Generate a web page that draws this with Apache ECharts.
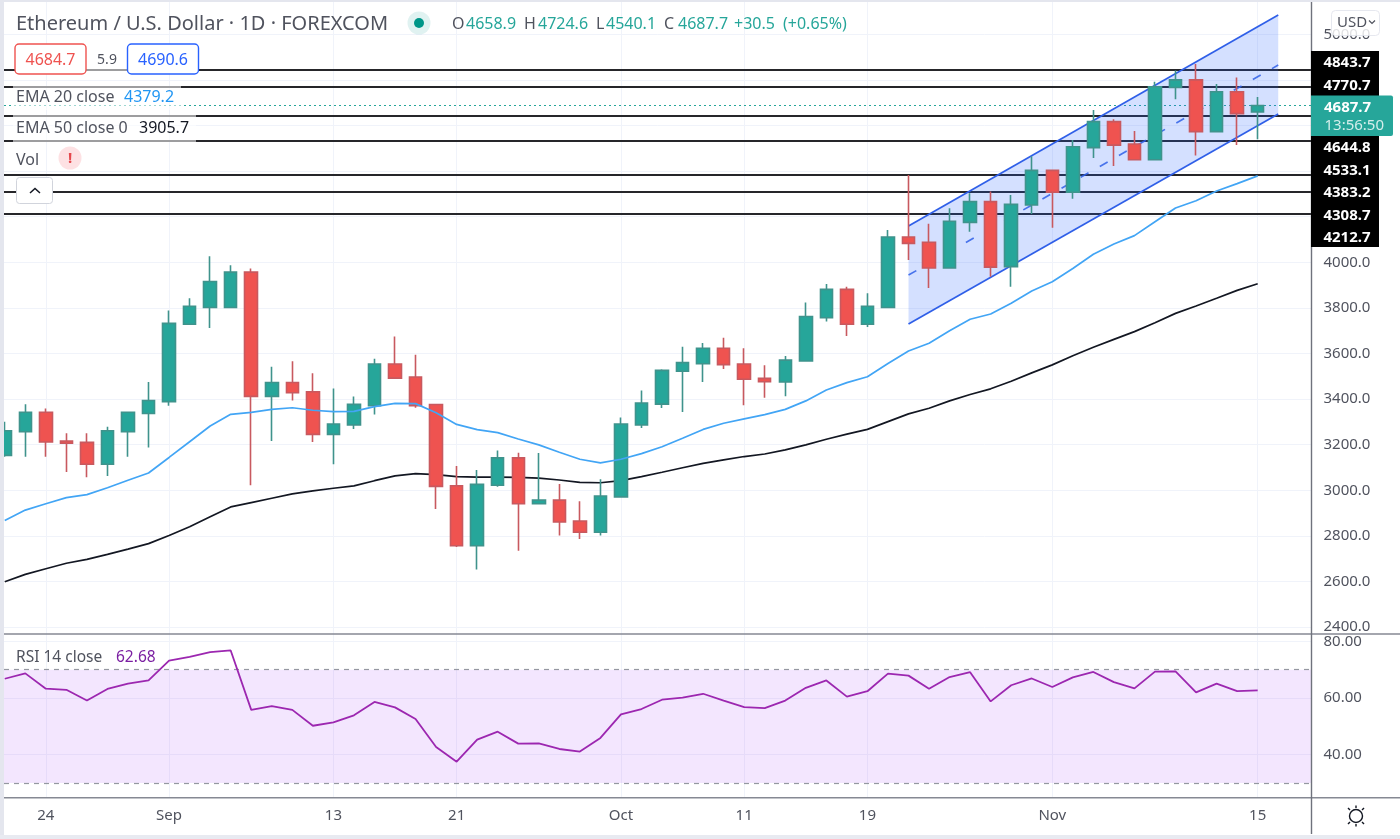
<!DOCTYPE html>
<html>
<head>
<meta charset="utf-8">
<style>html,body{margin:0;padding:0;background:#fff;overflow:hidden}#c{width:1400px;height:839px}</style>
<script src="https://cdn.jsdelivr.net/npm/echarts@6/dist/echarts.min.js"></script>
</head>
<body>
<div id="c"></div>
<script>
const opens = [3153,3257,3342,3216,3210,3114,3257,3337,3389,3728,3802,3802,3957,3412,3473,3432,3245,3286,3371,3554,3497,3376,3020,2757,3022,3142,2941,2957,2865,2816,2971,3286,3378,3522,3555,3623,3554,3491,3475,3567,3757,3881,3728,3802,4111,4088,3975,4175,4266,3981,4251,4403,4307,4503,4617,4519,4450,4767,4800,4573,4748,4658.9];
const closes = [3261,3342,3212,3206,3114,3261,3342,3394,3732,3807,3916,3957,3412,3473,3428,3245,3291,3377,3554,3492,3371,3017,2757,3026,3142,2941,2957,2861,2816,2975,3291,3383,3526,3560,3623,3551,3487,3476,3571,3762,3881,3728,3807,4111,4083,3975,4180,4266,3979,4254,4403,4307,4507,4617,4514,4450,4770,4800,4573,4748,4652,4687.7];
const lows = [3147,3147,3147,3080,3057,3063,3147,3188,3371,3728,3712,3802,3022,3216,3394,3212,3114,3269,3332,3488,3362,2918,2751,2653,3016,2735,2941,2802,2786,2802,2971,3273,3361,3343,3475,3532,3373,3406,3412,3567,3740,3677,3716,3802,4010,3887,3975,4134,3937,3893,4212,4152,4279,4457,4422,4446,4450,4715,4468,4573,4514,4540.1];
const highs = [3301,3377,3359,3250,3250,3279,3346,3475,3789,3842,4026,3987,3973,3542,3566,3513,3446,3411,3577,3675,3595,3376,3107,3089,3175,3165,3164,3028,2952,3048,3319,3438,3531,3630,3646,3669,3623,3548,3589,3824,3905,3893,3864,4142,4383.2,4169,4237,4303,4311,4295,4465,4403,4536,4668,4627,4576,4792,4841,4870,4782,4811,4724.6];
const ema20 = [2867,2913,2941,2968,2981,3011,3044,3076,3144,3213,3282,3333,3342,3355,3362,3351,3345,3346,3367,3381,3380,3340,3289,3266,3253,3225,3199,3167,3136,3120,3136,3161,3191,3228,3267,3294,3313,3332,3355,3392,3440,3472,3498,3556,3611,3645,3700,3750,3773,3820,3874,3915,3973,4035,4080,4117,4178,4238,4270,4313,4345,4379.2];
const ema50 = [2599,2631,2656,2680,2697,2719,2742,2766,2802,2840,2884,2927,2946,2965,2984,2997,3009,3019,3042,3063,3073,3069,3060,3058,3058,3057,3053,3045,3035,3033,3042,3060,3079,3099,3118,3133,3148,3159,3177,3199,3224,3246,3267,3301,3335,3360,3392,3420,3445,3478,3515,3550,3590,3627,3662,3696,3735,3776,3808,3842,3877,3905.7];
const rsi = [66.8,68.7,63.3,62.9,59.1,63.2,65.1,66.2,73.2,74.5,76.2,76.8,55.8,57.1,55.8,50.2,51.4,53.9,58.6,56.7,52.6,42.7,37.5,45.3,48.1,43.9,44.0,42.0,41.1,45.9,54.2,56.1,59.4,60.1,61.5,59.1,56.8,56.4,59.1,63.6,66.2,60.5,62.4,68.6,67.9,63.3,67.4,69.1,58.8,64.5,66.9,63.9,67.3,69.2,65.6,63.4,69.3,69.4,62.0,65.1,62.4,62.68];
const dateTickBars = [2,8,16,22,30,36,42,51,61];
const dateTickLabels = ['24','Sep','13','21','Oct','11','19','Nov','15'];
const priceTicks = [2400,2600,2800,3000,3200,3400,3600,3800,4000,4200,4400,4600,4800,5000];
const priceLabels = [2400,2600,2800,3000,3200,3400,3600,3800,4000,5000];
const rsiTicks = [40,60,80];
const levels = [4843.7,4770.7,4644.8,4533.1,4383.2,4308.7,4212.7];
const lastPrice = 4687.7;
const channelBars = [44,62];
const channelTop = [4159,5085];
const channelMid = [3944,4865];
const channelLow = [3729,4650];

const FONT = '"Noto Sans", sans-serif';
const GREEN = '#26a69a', RED = '#ef5350';
const X = {min:-0.037, max:63.62};
const PRICE = {min:2369.6, max:5141.7};
const RSI = {min:24.8, max:82.6};

const g = [];
function T(text,x,y,fill,size,extra){
  g.push({type:'text',silent:true,z:50,style:{text,x,y,fill,font:(extra&&extra.weight?extra.weight+' ':'')+size+'px '+FONT,textVerticalAlign:'middle',textAlign:(extra&&extra.align)||'left'}});
}
function R(x,y,w,h,fill,opts){
  opts=opts||{};
  g.push({type:'rect',silent:true,z:opts.z||49,shape:{x,y,width:w,height:h,r:opts.r||0},style:{fill,stroke:opts.stroke||null,lineWidth:opts.lw||0,opacity:opts.opacity==null?1:opts.opacity}});
}
function L(x1,y1,x2,y2,stroke,w,z){
  g.push({type:'line',silent:true,z:z||48,shape:{x1,y1,x2,y2},style:{stroke,lineWidth:w}});
}
// page frame
R(0,0,4,839,'#e4e6ee');R(0,0,1400,2,'#e4e6ee');R(0,835,1400,4,'#e8eaf1');
// pane separators and price axis
L(4,634,1400,634,'#868993',1.6);L(4,797.7,1400,797.7,'#868993',1.6);L(1311.5,2,1311.5,834,'#6f727c',1.4);
// legend panels
R(13,86,168,24,'#fff',{opacity:.55});R(13,115,183,27,'#fff',{opacity:.55});
R(86,69,42,2.5,'#fff',{opacity:.55});
const GREY='#50535e';
T('Ethereum / U.S. Dollar · 1D · FOREXCOM',16,24,GREY,20);
g.push({type:'circle',silent:true,z:50,shape:{cx:419,cy:23,r:11.5},style:{fill:'#009688',opacity:.12}});
g.push({type:'circle',silent:true,z:51,shape:{cx:419,cy:23,r:5},style:{fill:'#009688'}});
[['O',452,GREY],['4658.9',466,GREEN],['H',524,GREY],['4724.6',538,GREEN],['L',596,GREY],['4540.1',606,GREEN],['C',664,GREY],['4687.7',678,GREEN],['+30.5',734,GREEN],['(+0.65%)',783,GREEN]].forEach(a=>T(a[0],a[1],24,a[2],16));
R(15,44,71,30,'#fff',{r:4,stroke:'#ef5350',lw:1.4});
T('4684.7',50.5,60,'#ef5350',16,{align:'center'});
T('5.9',107,60,GREY,14,{align:'center'});
R(127.5,44,71,30,'#fff',{r:4,stroke:'#2962ff',lw:1.4});
T('4690.6',163,60,'#2962ff',16,{align:'center'});
T('EMA 20 close',16,97,GREY,16);T('4379.2',124,97,'#2196f3',16);
T('EMA 50 close 0',16,128.5,GREY,16);T('3905.7',139,128.5,'#131722',16);
T('Vol',16,160,GREY,16);
g.push({type:'circle',silent:true,z:50,shape:{cx:70,cy:158,r:11.5},style:{fill:'#f23645',opacity:.15}});
T('!',70,158.5,'#e5484d',15,{align:'center',weight:'bold'});
R(16.5,177.5,36,26,'#fff',{r:3,stroke:'#d1d4dc',lw:1});
g.push({type:'polyline',silent:true,z:51,shape:{points:[[30,193],[35,188.5],[40,193]]},style:{stroke:'#131722',lineWidth:1.5,fill:null}});
T('RSI 14 close',16,657.5,GREY,15.5);T('62.68',116,657.5,'#7b1fa2',15.5);
// price tags
R(1311,51,68,196,'#000');
[['4843.7',62.5],['4770.7',85.5],['4644.8',148],['4533.1',171],['4383.2',193],['4308.7',215.5],['4212.7',237.5]].forEach(a=>T(a[0],1347,a[1],'#fff',15,{align:'center',weight:'bold'}));
R(1311,95.5,82,40.5,GREEN,{r:[0,2,2,0],z:49});
T('4687.7',1324,107.5,'#fff',15,{weight:'bold'});
T('13:56:50',1324.5,126,'#d4eeeb',15);
// currency button
R(1331.5,10.5,48,25,'#fff',{r:4,stroke:'#e0e3eb',lw:1,opacity:.82});
T('USD',1337,22.5,GREY,15);
g.push({type:'polyline',silent:true,z:51,shape:{points:[[1369,20.5],[1372,23.5],[1375,20.5]]},style:{stroke:GREY,lineWidth:1.2,fill:null}});
// theme icon
g.push({type:'circle',silent:true,z:51,shape:{cx:1356,cy:816,r:6.5},style:{fill:'#fff',stroke:'#131722',lineWidth:1.4}});
[[0,-8,0,-10.5],[0,8,0,10.5],[-6,-6,-8,-8],[6,-6,8,-8],[-6,6,-8,8],[6,6,8,8]].forEach(a=>L(1356+a[0],816+a[1],1356+a[2],816+a[3],'#131722',1.4,51));

const candleData = opens.map((o,i)=>[i,o,closes[i],lows[i],highs[i]]);
const xy = a => a.map((v,i)=>[i,v]);
const pair = a => a.map((v,i)=>[channelBars[i],v]);
const gridLine = {show:true,lineStyle:{color:'#f0f3fa',width:1}};

const option = {
  animation:false,
  backgroundColor:'#fff',
  grid:[
    {left:4,right:88.5,top:2,height:632,containLabel:false},
    {left:4,right:88.5,top:634,height:163.7,containLabel:false}
  ],
  xAxis:[
    {gridIndex:0,type:'value',min:X.min,max:X.max,axisLine:{show:false},axisTick:{show:false,customValues:dateTickBars},axisLabel:{show:false},splitLine:gridLine},
    {gridIndex:1,type:'value',min:X.min,max:X.max,axisLine:{show:false},axisTick:{show:false,customValues:dateTickBars},splitLine:gridLine,
     axisLabel:{show:true,customValues:dateTickBars,color:GREY,fontFamily:FONT,fontSize:15,margin:11,showMinLabel:true,showMaxLabel:true,
       formatter:v=>dateTickLabels[dateTickBars.indexOf(v)]}}
  ],
  yAxis:[
    {gridIndex:0,type:'value',position:'right',min:PRICE.min,max:PRICE.max,axisLine:{show:false},axisTick:{show:false,customValues:priceTicks},splitLine:gridLine,
     axisLabel:{customValues:priceLabels,color:GREY,fontFamily:FONT,fontSize:15,margin:12,padding:[3,0,0,0],formatter:v=>v.toFixed(1)}},
    {gridIndex:1,type:'value',position:'right',min:RSI.min,max:RSI.max,axisLine:{show:false},axisTick:{show:false,customValues:rsiTicks},splitLine:gridLine,
     axisLabel:{customValues:rsiTicks,color:GREY,fontFamily:FONT,fontSize:15,margin:12,padding:[2,0,0,0],formatter:v=>v.toFixed(2)}}
  ],
  series:[
    {type:'line',name:'Levels',xAxisIndex:0,yAxisIndex:0,data:[],z:1,silent:true,
     markLine:{silent:true,symbol:'none',z:1,animation:false,label:{show:false},emphasis:{disabled:true},
       data:levels.map(v=>({yAxis:v,lineStyle:{color:'#26262a',width:1.8,type:'solid'}})).concat([{yAxis:lastPrice,lineStyle:{color:GREEN,width:1.2,type:[2,3]}}])}},
    {type:'custom',name:'Channel',xAxisIndex:0,yAxisIndex:0,z:2,silent:true,clip:true,
     data:[[channelBars[0],channelTop[0],channelLow[0],channelBars[1],channelTop[1],channelLow[1]]],
     encode:{x:[0,3],y:[1,2,4,5]},
     renderItem:(p,api)=>{
       const a=api.coord([api.value(0),api.value(1)]),b=api.coord([api.value(3),api.value(4)]),c=api.coord([api.value(3),api.value(5)]),d=api.coord([api.value(0),api.value(2)]);
       return {type:'polygon',shape:{points:[a,b,c,d]},style:{fill:'#2962ff',opacity:.2}};
     }},
    {type:'line',name:'Channel top',xAxisIndex:0,yAxisIndex:0,data:pair(channelTop),showSymbol:false,z:2,silent:true,lineStyle:{color:'#2f5fe8',width:1.7}},
    {type:'line',name:'Channel mid',xAxisIndex:0,yAxisIndex:0,data:pair(channelMid),showSymbol:false,z:2,silent:true,lineStyle:{color:'#2f5fe8',width:1.7,type:[9,13],opacity:.85}},
    {type:'line',name:'Channel low',xAxisIndex:0,yAxisIndex:0,data:pair(channelLow),showSymbol:false,z:2,silent:true,lineStyle:{color:'#2f5fe8',width:1.7}},
    {type:'line',name:'EMA 50',xAxisIndex:0,yAxisIndex:0,data:xy(ema50),showSymbol:false,z:3,silent:true,lineStyle:{color:'#131722',width:1.7}},
    {type:'candlestick',name:'ETHUSD',xAxisIndex:0,yAxisIndex:0,data:candleData,z:4,silent:true,barWidth:13,
     itemStyle:{color:GREEN,color0:RED,borderColor:'#3f938c',borderColor0:'#c8595f',borderWidth:1.6}},
    {type:'line',name:'EMA 20',xAxisIndex:0,yAxisIndex:0,data:xy(ema20),showSymbol:false,z:5,silent:true,lineStyle:{color:'#42a5f5',width:1.7}},
    {type:'line',name:'RSI',xAxisIndex:1,yAxisIndex:1,data:xy(rsi),showSymbol:false,z:5,silent:true,lineStyle:{color:'#9c27b0',width:1.8},
     markArea:{silent:true,z:1,itemStyle:{color:'rgba(165,60,245,0.13)'},data:[[{yAxis:70},{yAxis:30}]]},
     markLine:{silent:true,symbol:'none',z:2,label:{show:false},lineStyle:{color:'#9598a1',width:1.2,type:[5,5]},data:[{yAxis:70},{yAxis:30}]}}
  ],
  graphic:g
};
const chart = echarts.init(document.getElementById('c'),null,{renderer:'canvas',width:1400,height:839});
chart.setOption(option);
</script>
</body>
</html>
